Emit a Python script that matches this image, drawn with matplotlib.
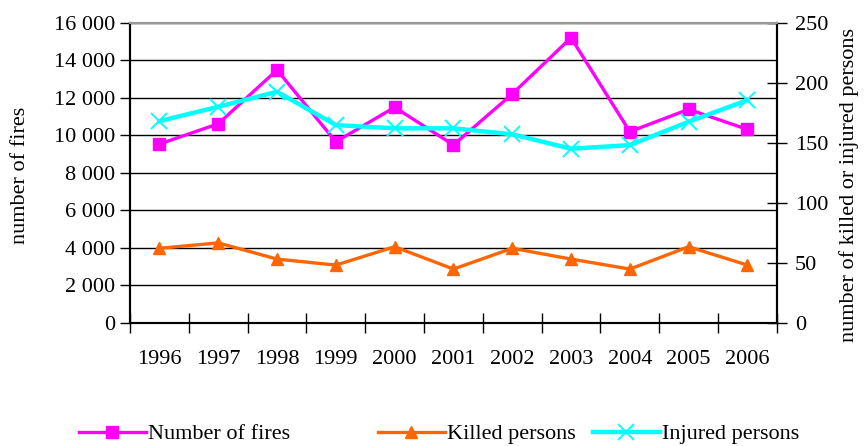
import matplotlib.pyplot as plt
from matplotlib.ticker import FuncFormatter, FixedLocator
from matplotlib.lines import Line2D
import numpy as np

plt.rcParams['font.family'] = ['Liberation Serif', 'DejaVu Serif']

years = ['1996', '1997', '1998', '1999', '2000', '2001', '2002', '2003', '2004', '2005', '2006']
fires = [9530, 10610, 13480, 9650, 11490, 9480, 12200, 15200, 10190, 11380, 10310]
killed = [62, 66.5, 53, 48, 63.3, 44.7, 62, 53, 44.7, 63.3, 48]
injured = [168, 180, 192.5, 164.7, 162, 162, 157, 145, 148, 167.5, 185.5]

fs = 16
fig = plt.figure(figsize=(8.67, 4.46), dpi=100)
ax = fig.add_axes([0.15, 0.2765, 0.746, 0.6725])
ax2 = ax.twinx()

x = np.arange(len(years))

ax.plot(x, fires, color='#FF00FF', lw=2.4, marker='s', ms=8, zorder=3)
ax2.plot(x, killed, color='#FF6600', lw=2.4, marker='^', ms=9, zorder=3)
ax2.plot(x, injured, color='#00FFFF', lw=3.2, marker='x', ms=11, mew=1.4, zorder=3)

ax.set_xlim(-0.5, len(years) - 0.5)
ax.set_ylim(0, 16000)
ax2.set_ylim(0, 250)

ax.set_yticks(np.arange(0, 16001, 2000))
ax.yaxis.set_major_formatter(FuncFormatter(lambda v, p: f'{int(v):,}'.replace(',', ' ')))
ax2.set_yticks(np.arange(0, 251, 50))

ax.set_xticks(x)
ax.set_xticklabels(years)
ax.xaxis.set_minor_locator(FixedLocator(np.arange(-0.5, len(years), 1)))
ax.tick_params(axis='x', which='major', length=0, pad=20, labelsize=fs)
ax.tick_params(axis='x', which='minor', direction='inout', length=14, width=1)
ax.tick_params(axis='y', direction='out', length=7, width=1, labelsize=fs, pad=4)
ax2.tick_params(axis='y', direction='inout', length=14, width=1, labelsize=fs, pad=6)

ax.grid(axis='y', color='black', lw=1)
ax.set_axisbelow(True)
for a in (ax, ax2):
    a.spines['top'].set_color('#999999')
    a.spines['top'].set_linewidth(1.5)
    a.spines['left'].set_linewidth(1.5)
    a.spines['right'].set_linewidth(1.5)
    a.spines['bottom'].set_linewidth(1.5)

ax.set_ylabel('number of fires', fontsize=fs)
ax2.set_ylabel('number of killed or injured persons', fontsize=fs)
ax.yaxis.set_label_coords(-0.155, 0.49)
ax2.yaxis.set_label_coords(1.097, 0.46)

h_fire = Line2D([], [], color='#FF00FF', lw=2.4, marker='s', ms=8)
h_kill = Line2D([], [], color='#FF6600', lw=2.4, marker='^', ms=9)
h_inj = Line2D([], [], color='#00FFFF', lw=3.2, marker='x', ms=11, mew=1.4)

leg_kw = dict(frameon=False, fontsize=fs, handlelength=3.0, handletextpad=0.1,
              borderpad=0, borderaxespad=0, loc='center left')
fig.legend([h_fire], ['Number of fires'], bbox_to_anchor=(79 / 867, 1 - 434 / 446), **leg_kw)
fig.legend([h_kill], ['Killed persons'], bbox_to_anchor=(378 / 867, 1 - 434 / 446), **leg_kw)
fig.legend([h_inj], ['Injured persons'], bbox_to_anchor=(593 / 867, 1 - 434 / 446), **leg_kw)

fig.savefig('out.png', dpi=100)
